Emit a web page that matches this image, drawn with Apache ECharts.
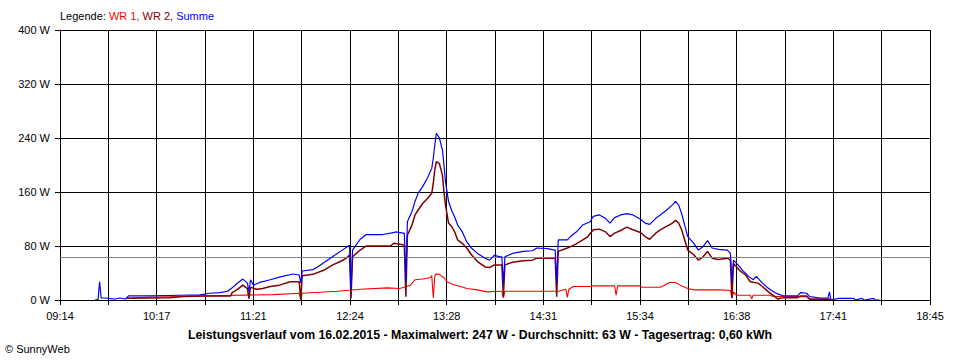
<!DOCTYPE html>
<html>
<head>
<meta charset="utf-8">
<script src="https://cdn.jsdelivr.net/npm/echarts@6/dist/echarts.min.js"></script>
<style>
html,body{margin:0;padding:0;background:#fff;}
#chart{width:960px;height:360px;}
</style>
</head>
<body>
<div id="chart"></div>
<script>
// ---- data ----
const tickLabels = ['09:14','10:17','11:21','12:24','13:28','14:31','15:34','16:38','17:41','18:45'];
const yTicks = [0, 80, 160, 240, 320, 400];
const average = 63;
const titleText = 'Leistungsverlauf vom 16.02.2015 - Maximalwert: 247 W - Durchschnitt: 63 W - Tagesertrag: 0,60 kWh';
const seriesNames = ['WR 1', 'WR 2', 'Summe'];

const wr1 = [
  ['09:58',2.5],['10:11',4],['10:46',6],['11:34',8],['11:51',10],['11:52',1],['11:53',10],
  ['12:16',13],['12:31',16],['12:49',18],['12:57',17],['13:04',22],['13:07',30],['13:12',31],
  ['13:17',33],['13:18',36],['13:19',3],['13:20',36],['13:21',39],['13:23',38],['13:26',33],
  ['13:28',27],['13:32',23],['13:37',20],['13:41',17],['13:48',15],['13:54',12],['14:03',13],
  ['14:04',13],['14:05',3],['14:06',13],['14:41',13],['14:46',16],['14:47',4],['14:48',16],
  ['14:51',20],['15:02',20],['15:04',21],['15:18',21],['15:19',7],['15:20',21],['15:35',21],
  ['15:36',19],['15:48',19],['15:50',21],['15:54',26],['15:58',26],['16:01',22],['16:06',17],
  ['16:10',15],['16:27',15],['16:34',14],['16:35',3],['16:36',12],['16:38',7],['16:47',7],
  ['16:48',2],['16:49',7],['17:00',7],['17:01',6],['17:05',5],['17:24',5],['17:26',1.5],
  ['17:39',1.5],['17:41',0]
];

const wr2 = [
  ['09:58',2.5],['10:11',3],['10:26',3.5],['10:35',5],['10:48',6],['11:06',6],['11:07',11],
  ['11:10',15],['11:14',22],['11:17',17],['11:18',2],['11:19',19],['11:23',16],['11:27',17],
  ['11:32',20],['11:38',22],['11:45',27],['11:51',27],['11:52',1],['11:53',36],['12:00',38],
  ['12:07',44],['12:13',52],['12:18',57],['12:22',62],['12:24',67],['12:25',2.5],['12:26',64],
  ['12:31',74],['12:35',80],['12:51',80],['12:53',84],['12:59',82],['13:00',81],['13:01',5],
  ['13:02',96],['13:05',111],['13:07',126],['13:09',133],['13:12',143],['13:15',150],['13:18',158],
  ['13:19',173],['13:20',193],['13:21',205],['13:23',202],['13:25',185],['13:26',160],['13:27',141],
  ['13:29',114],['13:31',109],['13:33',101],['13:35',89],['13:38',84],['13:41',77],['13:44',67],
  ['13:48',57],['13:53',49],['13:56',48],['13:59',52],['14:03',52],['14:04',52],['14:05',5],
  ['14:06',52],['14:11',56],['14:18',58],['14:24',59],['14:27',62],['14:39',62],['14:40',5],
  ['14:41',72],['14:47',77],['14:51',81],['14:55',86],['15:00',93],['15:04',104],['15:08',105],
  ['15:12',101],['15:15',94],['15:18',99],['15:22',103],['15:26',108],['15:30',104],['15:35',100],
  ['15:38',94],['15:41',90],['15:45',99],['15:48',104],['15:52',109],['15:56',114],['15:58',118],
  ['16:00',114],['16:02',104],['16:04',89],['16:06',74],['16:10',67],['16:13',59],['16:16',64],
  ['16:19',72],['16:22',62],['16:26',60],['16:32',62],['16:34',59],['16:35',3],['16:36',54],
  ['16:40',44],['16:44',37],['16:47',27],['16:52',25],['16:55',20],['16:59',12],['17:02',7],
  ['17:05',1.5],['17:09',3.5],['17:18',3.5],['17:20',6],['17:24',6],['17:26',1],['17:39',1],
  ['17:41',0]
];

const summe = [
  ['09:37',0],['09:39',1],['09:40',27],['09:41',3],['09:44',3],['09:47',2],['09:50',1.5],
  ['09:53',3],['09:57',1.5],['09:59',6],['10:13',6],['10:33',7],['10:46',7.5],['10:52',10],
  ['10:59',11],['11:04',13],['11:07',18],['11:10',24],['11:14',31],['11:17',25],['11:18',12],
  ['11:19',30],['11:21',22],['11:25',26],['11:32',30],['11:38',34],['11:47',38.5],['11:51',37],
  ['11:52',25],['11:53',43],['12:00',45],['12:03',49],['12:09',58],['12:16',69],['12:20',75],
  ['12:24',81],['12:25',15],['12:26',74],['12:31',90],['12:35',97],['12:46',97],['12:51',99],
  ['12:55',101],['12:59',99],['13:00',99],['13:01',27],['13:02',116],['13:05',131],['13:07',146],
  ['13:09',158],['13:12',168],['13:15',180],['13:18',195],['13:19',210],['13:20',230],['13:21',247],
  ['13:23',240],['13:25',222],['13:26',200],['13:27',175],['13:29',146],['13:31',133],['13:33',123],
  ['13:35',111],['13:38',101],['13:41',86],['13:44',77],['13:48',69],['13:53',62],['13:56',59],
  ['13:59',66],['14:03',64],['14:04',64],['14:05',22],['14:06',64],['14:11',69],['14:18',72],
  ['14:24',73],['14:27',77],['14:34',76],['14:39',74],['14:40',24],['14:41',89],['14:47',89],
  ['14:49',94],['14:53',101],['14:57',111],['15:02',116],['15:04',124],['15:08',126],['15:12',121],
  ['15:15',114],['15:18',122],['15:22',126],['15:26',128],['15:30',126],['15:35',119.5],['15:38',114],
  ['15:41',112],['15:45',121],['15:48',126],['15:52',133],['15:56',141],['15:58',146],['16:00',141],
  ['16:02',128],['16:04',111],['16:06',94],['16:10',84],['16:13',74],['16:16',79],['16:19',88],
  ['16:22',77],['16:26',75],['16:32',74],['16:34',69],['16:35',26],['16:36',59],['16:39',52],
  ['16:42',44],['16:46',35],['16:49',30],['16:51',35],['16:55',25],['16:58',19],['17:01',14],
  ['17:05',9],['17:09',6],['17:18',6],['17:20',11],['17:24',10],['17:26',5],['17:33',3],
  ['17:38',3],['17:39',12],['17:40',0],['17:45',2.5],['17:55',2.5],['17:56',0],['18:00',2.5],
  ['18:02',0],['18:08',2.5],['18:09',0],['18:12',0]
];

// ---- helpers ----
function toMin(s){ const p = s.split(':'); return (+p[0])*60 + (+p[1]); }
const t0 = toMin(tickLabels[0]);
const span = toMin(tickLabels[tickLabels.length-1]) - t0;
const xInterval = span / ((tickLabels.length - 1) * 2);
function pts(arr){ return arr.map(d => [toMin(d[0]) - t0, d[1]]); }

const FONT = '"Liberation Sans", Arial, sans-serif';
const chart = echarts.init(document.getElementById('chart'), null, {renderer: 'svg'});

chart.setOption({
  animation: false,
  backgroundColor: '#ffffff',
  grid: {left: 60, right: 30, top: 30, bottom: 60, containLabel: false},
  xAxis: {
    type: 'value', min: 0, max: span, interval: xInterval,
    axisLine: {show: true, onZero: false, lineStyle: {color: '#000', width: 1}},
    axisTick: {show: true, length: 5, lineStyle: {color: '#000'}},
    splitLine: {show: true, lineStyle: {color: '#000', width: 1}},
    axisLabel: {
      color: '#000', fontFamily: FONT, fontSize: 11, margin: 10, showMaxLabel: true, showMinLabel: true,
      formatter: function(v){
        const i = Math.round(v / xInterval);
        return (i % 2 === 0) ? tickLabels[i/2] : '';
      }
    }
  },
  yAxis: {
    type: 'value', min: yTicks[0], max: yTicks[yTicks.length-1], interval: yTicks[1]-yTicks[0],
    axisLine: {show: true, lineStyle: {color: '#000', width: 1}},
    axisTick: {show: true, length: 5, lineStyle: {color: '#000'}},
    splitLine: {show: true, lineStyle: {color: '#000', width: 1}},
    axisLabel: {color: '#000', fontFamily: FONT, fontSize: 11, margin: 10, formatter: '{value} W'}
  },
  graphic: [
    {type: 'text', left: 60, top: 10, style: {
      text: '{k|Legende: }{a|' + seriesNames[0] + ', }{b|' + seriesNames[1] + ', }{c|' + seriesNames[2] + '}',
      font: '11px ' + FONT,
      rich: {
        k: {fill: '#000', fontFamily: FONT, fontSize: 11},
        a: {fill: '#ff0000', fontFamily: FONT, fontSize: 11},
        b: {fill: '#800000', fontFamily: FONT, fontSize: 11},
        c: {fill: '#0000ff', fontFamily: FONT, fontSize: 11}
      }
    }},
    {type: 'text', left: 'center', top: 329, style: {
      text: titleText, fill: '#000', font: 'bold 12.3px ' + FONT
    }},
    {type: 'text', left: 5, top: 343, style: {
      text: '\u00a9 SunnyWeb', fill: '#000', font: '11px ' + FONT
    }}
  ],
  series: [
    {name: seriesNames[0], type: 'line', data: pts(wr1), showSymbol: false, symbol: 'none',
     lineStyle: {color: '#ff0000', width: 1.1}, z: 3,
     markLine: {silent: true, symbol: 'none', label: {show: false},
       lineStyle: {color: '#808080', width: 1, type: 'solid'}, data: [{yAxis: average}]}},
    {name: seriesNames[1], type: 'line', data: pts(wr2), showSymbol: false, symbol: 'none',
     lineStyle: {color: '#800000', width: 1.5}, z: 4},
    {name: seriesNames[2], type: 'line', data: pts(summe), showSymbol: false, symbol: 'none',
     lineStyle: {color: '#0000ff', width: 1.2}, z: 5}
  ]
});
</script>
</body>
</html>
